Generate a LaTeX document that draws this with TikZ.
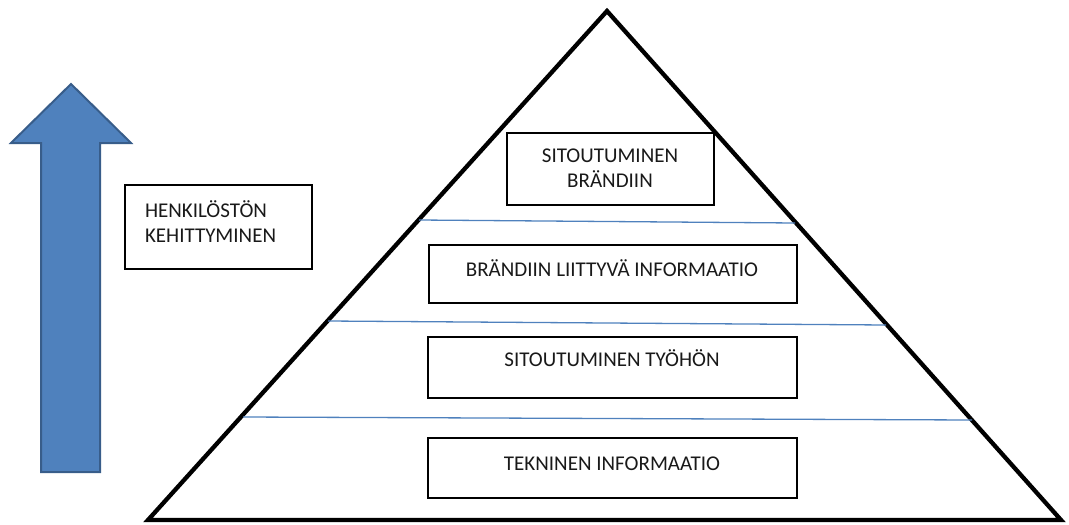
\documentclass[tikz,border=0pt]{standalone}
\usepackage{fontspec}
\setmainfont{Carlito}
\definecolor{arrowblue}{RGB}{79,129,189}
\definecolor{arrowedge}{RGB}{56,93,138}
\definecolor{sepblue}{RGB}{79,129,189}
\begin{document}
\begin{tikzpicture}[x=1pt,y=-1pt,
  every node/.style={inner sep=0pt,outer sep=0pt},
  lvlbox/.style={draw=black,line width=1.4pt,fill=white,anchor=north west},
  lbl/.style={font=\fontsize{21}{25}\selectfont,text=black!90,align=center},
  sepline/.style={draw=sepblue,line width=1.3pt},
  pyr/.style={draw=black,line width=4.3pt,line join=miter}]
\useasboundingbox (0,0) rectangle (1069,525);

% upward arrow
\filldraw[fill=arrowblue,draw=arrowedge,line width=2pt]
  (41,472) -- (41,143) -- (11,143) -- (71,84) -- (131,143) -- (100,143) -- (100,472) -- cycle;

% pyramid outline
\coordinate (apex) at (607,11);
\coordinate (bl) at (148,520);
\coordinate (br) at (1061,520);
\draw[pyr] (bl) -- (apex) -- (br) -- cycle;

% level separators
\coordinate (s1l) at (419,220); \coordinate (s1r) at (795,223);
\coordinate (s2l) at (328,321); \coordinate (s2r) at (886,325);
\coordinate (s3l) at (243,417); \coordinate (s3r) at (972,420);
\draw[sepline] (s1l) -- (s1r);
\draw[sepline] (s2l) -- (s2r);
\draw[sepline] (s3l) -- (s3r);

% boxes
\node[lvlbox,minimum width=207pt,minimum height=72pt] (b1) at (507,133) {};
\node[lvlbox,minimum width=368pt,minimum height=58pt] (b2) at (429,245) {};
\node[lvlbox,minimum width=369pt,minimum height=61pt] (b3) at (428,337) {};
\node[lvlbox,minimum width=369pt,minimum height=60pt] (b4) at (428,438) {};
\node[lvlbox,minimum width=187pt,minimum height=84pt] (hk) at (125,185) {};

% labels
\node[lbl,anchor=center] (t1) at (610,168) {SITOUTUMINEN\\BRÄNDIIN};
\node[lbl,anchor=center] (t2) at (612,268) {BRÄNDIIN LIITTYVÄ INFORMAATIO};
\node[lbl,anchor=center] (t3) at (612,358) {SITOUTUMINEN TYÖHÖN};
\node[lbl,anchor=center] (t4) at (612,464) {TEKNINEN INFORMAATIO};
\node[lbl,align=left,anchor=west] (th) at (145,222) {HENKILÖSTÖN\\KEHITTYMINEN};
\end{tikzpicture}
\end{document}
